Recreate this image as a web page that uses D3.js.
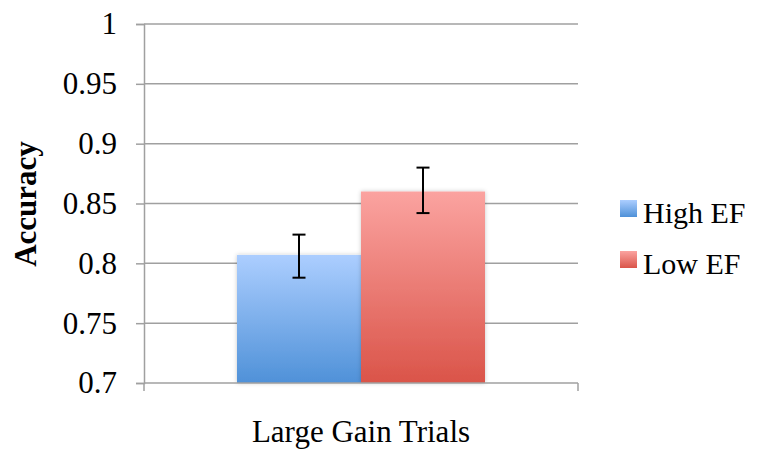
<!DOCTYPE html>
<html>
<head>
<meta charset="utf-8">
<script src="https://cdn.jsdelivr.net/npm/d3@7"></script>
<style>
  body { margin: 0; background: #fff; }
</style>
</head>
<body>
<div id="drawing"></div>
<script>
// data
var categories = ["Large Gain Trials"];
var seriesNames = ["High EF", "Low EF"];
var means = [0.807, 0.860];
var errLow = [0.788, 0.842];
var errHigh = [0.824, 0.880];
var yTicks = [0.7, 0.75, 0.8, 0.85, 0.9, 0.95, 1];

var width = 757, height = 452;
var margin = {top: 24, left: 144, right: 179, bottom: 69};
var plotW = width - margin.left - margin.right;
var plotH = height - margin.top - margin.bottom;
var serif = "'Liberation Serif', 'Times New Roman', serif";
var fs = "31px";

var svg = d3.select("#drawing").append("svg")
  .attr("width", width)
  .attr("height", height)
  .style("font-family", serif);

var defs = svg.append("defs");
var grads = [["#acceff", "#4f91d8"], ["#fba3a0", "#da5449"]];
grads.forEach(function (g, i) {
  var lg = defs.append("linearGradient")
    .attr("id", "grad" + i)
    .attr("x1", 0).attr("y1", 0).attr("x2", 0).attr("y2", 1);
  lg.append("stop").attr("offset", "0%").attr("stop-color", g[0]);
  lg.append("stop").attr("offset", "100%").attr("stop-color", g[1]);
});
var f = defs.append("filter").attr("id", "shadow")
  .attr("x", "-10%").attr("y", "-10%").attr("width", "120%").attr("height", "120%");
f.append("feDropShadow").attr("dx", 0).attr("dy", 0).attr("stdDeviation", 2)
  .attr("flood-color", "#000").attr("flood-opacity", 0.22);

var g = svg.append("g").attr("transform", `translate(${margin.left},${margin.top})`);

var yScale = d3.scaleLinear().domain([0.7, 1]).range([plotH, 0]);
var xScale = d3.scaleBand().domain(categories).range([0, plotW]);
var xInner = d3.scaleBand().domain(seriesNames)
  .range([0, xScale.bandwidth()]).paddingOuter(0.75);

// gridlines
g.selectAll(".grid")
  .data(yTicks.slice(1))
  .enter().append("line")
  .attr("x1", 0).attr("x2", plotW)
  .attr("y1", d => yScale(d)).attr("y2", d => yScale(d))
  .style("stroke", "#a0a0a0").style("stroke-width", 1.5);

// y axis
var yAxis = g.append("g")
  .call(d3.axisLeft(yScale).tickValues(yTicks).tickSize(8).tickPadding(19)
    .tickFormat(d => d3.format("")(d)));
yAxis.attr("font-family", null).attr("font-size", null);
yAxis.select(".domain").style("stroke", "#a0a0a0").style("stroke-width", 1.5);
yAxis.selectAll(".tick line").style("stroke", "#a0a0a0").style("stroke-width", 1.5);
yAxis.selectAll("text").attr("fill", "#000")
  .style("font-family", serif).style("font-size", fs);

// bars
g.selectAll(".bar")
  .data(means)
  .enter().append("rect")
  .attr("x", (d, i) => xScale(categories[0]) + xInner(seriesNames[i]))
  .attr("y", d => yScale(d))
  .attr("width", xInner.bandwidth())
  .attr("height", d => plotH - yScale(d))
  .attr("fill", (d, i) => `url(#grad${i})`)
  .attr("filter", "url(#shadow)");

// x axis
var xAxis = g.append("g").attr("transform", `translate(0,${plotH})`);
xAxis.append("line").attr("x1", 0).attr("x2", plotW)
  .style("stroke", "#a0a0a0").style("stroke-width", 1.5);
xAxis.selectAll(".xt").data([0, plotW]).enter().append("line")
  .attr("x1", d => d).attr("x2", d => d).attr("y1", 0).attr("y2", 8)
  .style("stroke", "#a0a0a0").style("stroke-width", 1.5);
xAxis.selectAll(".xl").data(categories).enter().append("text")
  .attr("x", d => xScale(d) + xScale.bandwidth() / 2)
  .attr("y", 59)
  .attr("text-anchor", "middle")
  .style("font-size", fs)
  .text(d => d);

// error bars
var cap = 13;
var eb = g.selectAll(".err").data(means).enter().append("g");
eb.append("line")
  .attr("x1", (d, i) => xInner(seriesNames[i]) + xInner.bandwidth() / 2)
  .attr("x2", (d, i) => xInner(seriesNames[i]) + xInner.bandwidth() / 2)
  .attr("y1", (d, i) => yScale(errLow[i]))
  .attr("y2", (d, i) => yScale(errHigh[i]))
  .style("stroke", "#000").style("stroke-width", 2);
[errLow, errHigh].forEach(function (arr) {
  eb.append("line")
    .attr("x1", (d, i) => xInner(seriesNames[i]) + xInner.bandwidth() / 2 - cap / 2)
    .attr("x2", (d, i) => xInner(seriesNames[i]) + xInner.bandwidth() / 2 + cap / 2)
    .attr("y1", (d, i) => yScale(arr[i]))
    .attr("y2", (d, i) => yScale(arr[i]))
    .style("stroke", "#000").style("stroke-width", 2);
});

// y label
svg.append("text")
  .attr("transform", "translate(36,204) rotate(-90)")
  .attr("text-anchor", "middle")
  .style("font-size", "31px")
  .style("font-weight", "bold")
  .text("Accuracy");

// legend
var legend = svg.selectAll(".legend").data(seriesNames).enter().append("g")
  .attr("transform", (d, i) => `translate(620,${200 + i * 51})`);
legend.append("rect").attr("width", 17).attr("height", 17)
  .attr("fill", (d, i) => `url(#grad${i})`);
legend.append("text").attr("x", 23).attr("y", 23)
  .style("font-size", "30px").text(d => d);
</script>
</body>
</html>
